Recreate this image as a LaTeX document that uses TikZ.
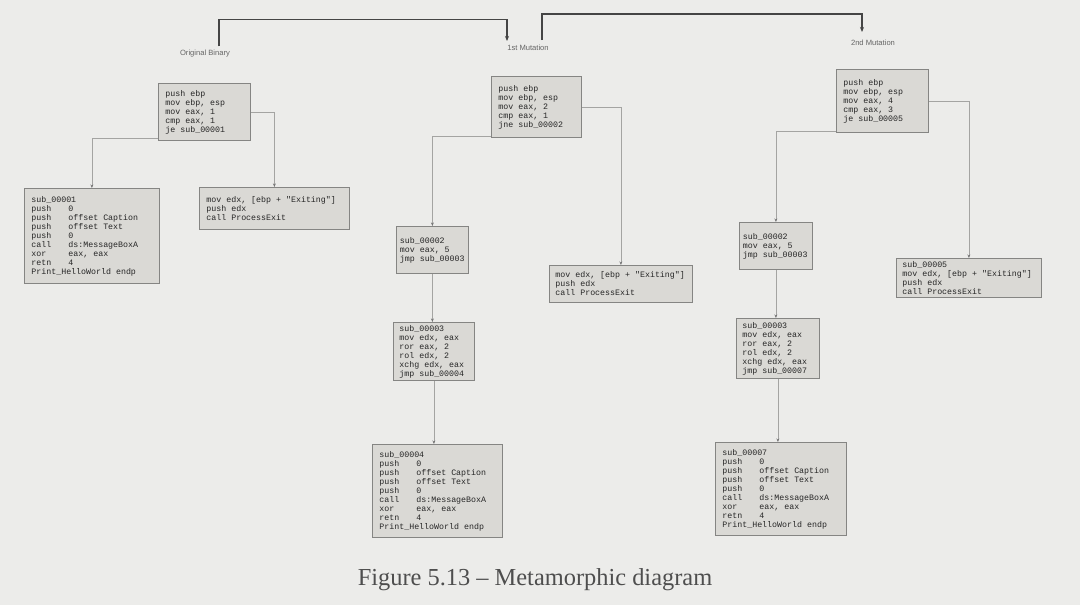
\documentclass[tikz,border=0pt]{standalone}
\usepackage{fontspec}
\setmainfont{Liberation Serif}
\setmonofont{Liberation Mono}
\setsansfont{Liberation Sans}
\usetikzlibrary{arrows.meta,calc}
\definecolor{bg}{HTML}{ECECEA}
\definecolor{boxfill}{HTML}{DAD9D5}
\definecolor{boxline}{HTML}{858583}
\definecolor{code}{HTML}{262626}
\definecolor{topline}{HTML}{454545}
\definecolor{conline}{HTML}{A4A4A2}
\definecolor{captxt}{HTML}{4E4E4E}
\newcommand{\ins}[2]{\makebox[37pt][l]{#1}#2}
\begin{document}
\begin{tikzpicture}[x=1pt,y=-1pt,
  cbox/.style={draw=boxline,fill=boxfill,line width=0.8pt,anchor=north west,
    inner xsep=7pt,inner ysep=1.5pt,align=flush left,text=code,
    font=\ttfamily\fontsize{8.3}{9}\selectfont,
    execute at begin node={\spaceskip=0.6em\xspaceskip=0.6em\relax}},
  lbl/.style={inner sep=1pt,text=black!60,font=\sffamily\fontsize{7.6}{8}\selectfont},
  topc/.style={draw=topline,line width=1.1pt,-{Stealth[length=5pt,width=4pt]}},
  conn/.style={draw=conline,line width=0.6pt,-{Stealth[length=3.5pt,width=2.8pt,color=black!55]}}]
\useasboundingbox[fill=bg] (0,0) rectangle (1080,605);

% labels
\node[lbl] (ob) at (205,54) {Original Binary};
\node[lbl] (m1) at (528,48) {1st Mutation};
\node[lbl] (m2) at (873,43) {2nd Mutation};

\draw[topc] ([xshift=14pt,yshift=3pt]ob.north) -- ++(0,-27) -| ([xshift=-21pt,yshift=3pt]m1.north);
\draw[topc] ([xshift=14pt,yshift=4pt]m1.north) -- ++(0,-26) -| ([xshift=-11pt,yshift=7pt]m2.north);

% original binary
\node[cbox,text width=78pt,minimum height=57pt] (A0) at (158,83)
 {push ebp\\mov ebp, esp\\mov eax, 1\\cmp eax, 1\\je sub\_00001};
\node[cbox,text width=121pt,minimum height=95pt] (A1) at (24,188)
 {sub\_00001\\\ins{push}{0}\\\ins{push}{offset Caption}\\\ins{push}{offset Text}\\\ins{push}{0}\\\ins{call}{ds:MessageBoxA}\\\ins{xor}{eax, eax}\\\ins{retn}{4}\\Print\_HelloWorld endp};
\node[cbox,text width=136pt,minimum height=42pt] (A2) at (199,187)
 {mov edx, [ebp + "Exiting"]\\push edx\\call ProcessExit};

% 1st mutation
\node[cbox,text width=76pt,minimum height=61pt] (B0) at (491,76)
 {push ebp\\mov ebp, esp\\mov eax, 2\\cmp eax, 1\\jne sub\_00002};
\node[cbox,inner xsep=3.5pt,text width=65pt,minimum height=47pt] (B1) at (396,226)
 {sub\_00002\\mov eax, 5\\jmp sub\_00003};
\node[cbox,inner xsep=6pt,text width=131pt,minimum height=37pt] (B2) at (549,265)
 {mov edx, [ebp + "Exiting"]\\push edx\\call ProcessExit};
\node[cbox,inner xsep=6pt,text width=69pt,minimum height=58pt] (B3) at (393,322)
 {sub\_00003\\mov edx, eax\\ror eax, 2\\rol edx, 2\\xchg edx, eax\\jmp sub\_00004};
\node[cbox,text width=116pt,minimum height=93pt] (B4) at (372,444)
 {sub\_00004\\\ins{push}{0}\\\ins{push}{offset Caption}\\\ins{push}{offset Text}\\\ins{push}{0}\\\ins{call}{ds:MessageBoxA}\\\ins{xor}{eax, eax}\\\ins{retn}{4}\\Print\_HelloWorld endp};

% 2nd mutation
\node[cbox,text width=78pt,minimum height=63pt] (C0) at (836,69)
 {push ebp\\mov ebp, esp\\mov eax, 4\\cmp eax, 3\\je sub\_00005};
\node[cbox,inner xsep=3.5pt,text width=66pt,minimum height=47pt] (C1) at (739,222)
 {sub\_00002\\mov eax, 5\\jmp sub\_00003};
\node[cbox,inner xsep=6pt,text width=133pt,minimum height=39pt] (C2) at (896,258)
 {sub\_00005\\mov edx, [ebp + "Exiting"]\\push edx\\call ProcessExit};
\node[cbox,inner xsep=6pt,text width=71pt,minimum height=60pt] (C3) at (736,318)
 {sub\_00003\\mov edx, eax\\ror eax, 2\\rol edx, 2\\xchg edx, eax\\jmp sub\_00007};
\node[cbox,text width=117pt,minimum height=93pt] (C4) at (715,442)
 {sub\_00007\\\ins{push}{0}\\\ins{push}{offset Caption}\\\ins{push}{offset Text}\\\ins{push}{0}\\\ins{call}{ds:MessageBoxA}\\\ins{xor}{eax, eax}\\\ins{retn}{4}\\Print\_HelloWorld endp};

% connectors
\draw[conn] ([yshift=3pt]A0.south west) -| (A1.north);
\draw[conn] (A0.east) -| (A2.north);
\draw[conn] ([yshift=2pt]B0.south west) -| (B1.north);
\draw[conn] (B0.east) -| (B2.north);
\draw[conn] (B1.south) -- (B1.south |- B3.north);
\draw[conn] (B3.south) -- (B3.south |- B4.north);
\draw[conn] ([yshift=2pt]C0.south west) -| (C1.north);
\draw[conn] (C0.east) -| (C2.north);
\draw[conn] (C1.south) -- (C1.south |- C3.north);
\draw[conn] (C3.south) -- (C3.south |- C4.north);

% caption
\node[text=captxt,font=\fontsize{24.4}{28}\selectfont,inner sep=0pt] (cap) at (535,580)
 {Figure 5.13 – Metamorphic diagram};
\end{tikzpicture}
\end{document}
